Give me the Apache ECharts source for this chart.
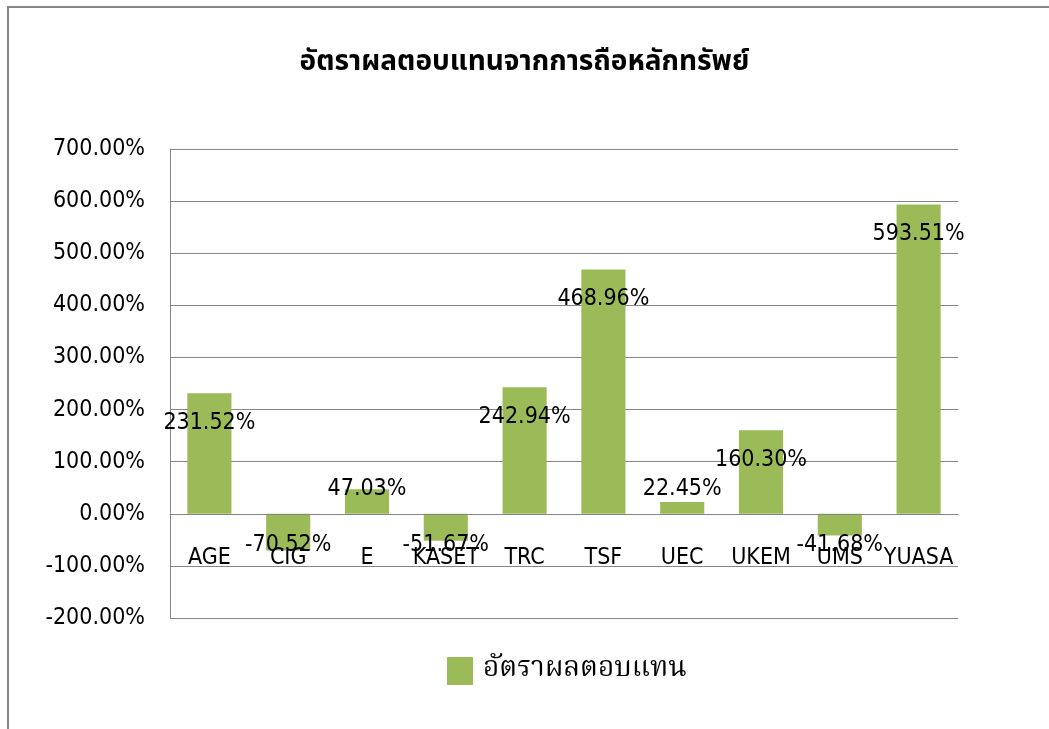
<!DOCTYPE html>
<html>
<head>
<meta charset="utf-8">
<script src="https://cdn.jsdelivr.net/npm/echarts@6/dist/echarts.min.js"></script>
<style>
  html, body { margin: 0; padding: 0; background: #fff; }
  #chart { width: 1049px; height: 729px; }
</style>
</head>
<body>
<div id="chart"></div>
<script>
const categories = ['AGE', 'CIG', 'E', 'KASET', 'TRC', 'TSF', 'UEC', 'UKEM', 'UMS', 'YUASA'];
const returns = [231.52, -70.52, 47.03, -51.67, 242.94, 468.96, 22.45, 160.30, -41.68, 593.51];
const yTicks = [-200, -100, 0, 100, 200, 300, 400, 500, 600, 700];

const chartTitle = 'อัตราผลตอบแทนจากการถือหลักทรัพย์';
const seriesName = 'อัตราผลตอบแทน';

const textFont = '"DejaVu Sans Condensed", "DejaVu Sans", sans-serif';
const titleFont = '"Noto Sans Thai", sans-serif';
const legendFont = '"Noto Serif Thai", "Noto Sans Thai", serif';
const plotHeight = 469;
const pxPerUnit = plotHeight / (yTicks[yTicks.length - 1] - yTicks[0]); // only used to nudge labels

// Excel-like "inside end" labels: big bars keep the label inside, small ones sit in a fixed band
function labelFor(v) {
  if (v >= 100) {
    return { position: 'insideTop', distance: 18 };
  }
  if (v >= 0) {
    return { position: 'top', distance: 13 - v * pxPerUnit };
  }
  return { position: 'insideBottom', distance: -v * pxPerUnit - 43 };
}

const chart = echarts.init(document.getElementById('chart'));
chart.setOption({
  animation: false,
  title: {
    text: chartTitle,
    left: 'center',
    top: 45,
    textStyle: { fontFamily: titleFont, fontSize: 28, fontWeight: 'bold', color: '#000' },
  },
  graphic: [
    {
      type: 'rect',
      shape: { x: 8, y: 7, width: 1100, height: 800 },
      style: { fill: 'none', stroke: '#868686', lineWidth: 2 },
      silent: true,
    },
  ],
  legend: {
    data: [seriesName],
    left: 442,
    top: 652,
    itemWidth: 26,
    itemHeight: 28,
    itemGap: 20,
    icon: 'rect',
    textStyle: { fontFamily: legendFont, fontSize: 28, color: '#000', padding: [0, 0, 0, 5] },
  },
  grid: { left: 170, right: 91, top: 149, bottom: 111, containLabel: false },
  xAxis: {
    type: 'category',
    data: categories,
    // category labels sit along the zero line, as in the original
    offset: -pxPerUnit * (0 - yTicks[0]),
    axisLine: { show: true, lineStyle: { color: '#868686', width: 1 } },
    axisTick: { show: false },
    axisLabel: { color: '#000', fontFamily: textFont, fontSize: 23, margin: 33, interval: 0 },
    z: 10,
  },
  yAxis: {
    type: 'value',
    min: yTicks[0],
    max: yTicks[yTicks.length - 1],
    interval: 100,
    axisLine: { show: true, lineStyle: { color: '#868686', width: 1 } },
    axisTick: { show: false },
    axisLabel: {
      color: '#000',
      fontFamily: textFont,
      fontSize: 23,
      margin: 25,
      formatter: (v) => v.toFixed(2) + '%',
    },
    splitLine: { lineStyle: { color: '#868686', width: 1 } },
  },
  series: [
    {
      name: seriesName,
      type: 'bar',
      barCategoryGap: '44%',
      itemStyle: { color: '#9BBB59' },
      data: returns.map((v) => ({ value: v, label: labelFor(v) })),
      label: {
        show: true,
        color: '#000',
        fontFamily: textFont,
        fontSize: 23,
        formatter: (p) => p.value.toFixed(2) + '%',
      },
      z: 3,
    },
  ],
});
</script>
</body>
</html>
